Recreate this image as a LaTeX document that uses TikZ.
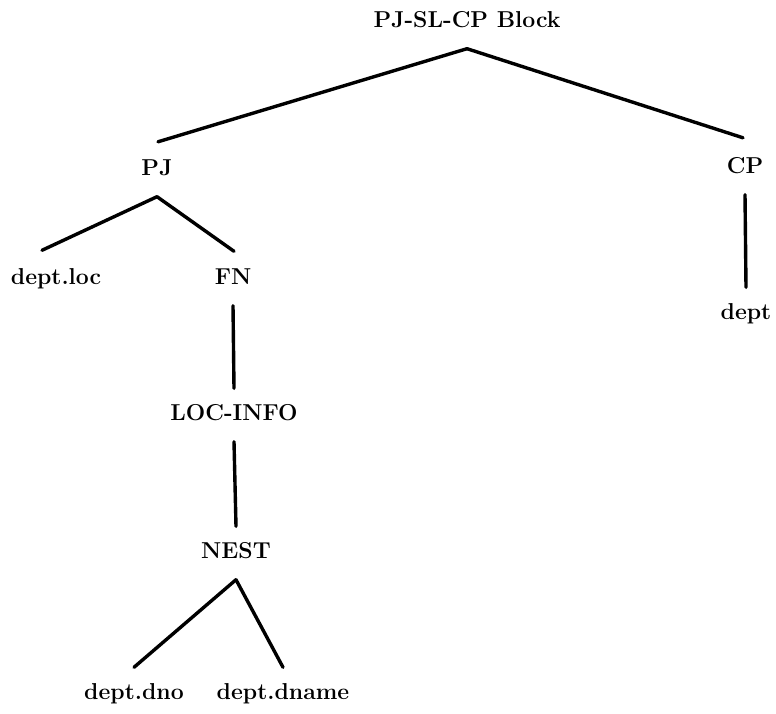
\documentclass[tikz,border=0pt]{standalone}
\begin{document}
\begin{tikzpicture}[x=1pt,y=-1pt,
  lbl/.style={font=\fontsize{23}{27}\selectfont\bfseries, inner xsep=0pt, inner ysep=17pt,
              text height=15pt, text depth=4pt, anchor=center},
  edge/.style={line width=3.4pt, line cap=round}]
\useasboundingbox (0,0) rectangle (776,714);
\node[lbl] (root)  at (467,22)  {PJ-SL-CP Block};
\node[lbl] (pj)    at (157,170) {PJ};
\node[lbl] (cp)    at (745,168) {CP};
\node[lbl] (dl)    at (56,279)  {dept.loc};
\node[lbl] (fn)    at (233,279) {FN};
\node[lbl] (loc)   at (234,415) {LOC-INFO};
\node[lbl] (nest)  at (236,553) {NEST};
\node[lbl] (dno)   at (134,694) {dept.dno};
\node[lbl] (dname) at (283,694) {dept.dname};
\node[lbl] (dept)  at (746,314) {dept};
\draw[edge] (root.south) -- ([xshift=1pt,yshift=1.5pt]pj.north);
\draw[edge] (root.south) -- ([xshift=-2pt,yshift=3.5pt]cp.north);
\draw[edge] (pj.south) -- ([xshift=-14pt,yshift=2pt]dl.north);
\draw[edge] (pj.south) -- ([xshift=1pt,yshift=1pt]fn.north);
\draw[edge] (fn.south) -- (loc.north);
\draw[edge] (loc.south) -- (nest.north);
\draw[edge] (nest.south) -- (dno.north);
\draw[edge] (nest.south) -- (dname.north);
\draw[edge] (cp.south) -- (dept.north);
\end{tikzpicture}
\end{document}
